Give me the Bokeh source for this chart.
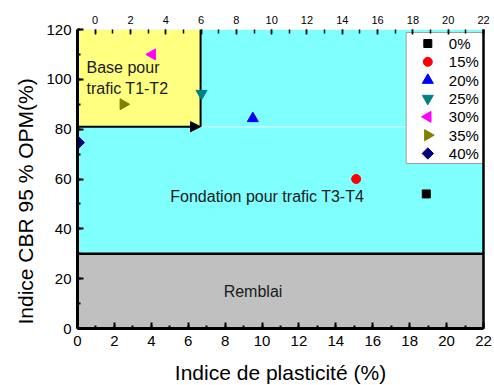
from bokeh.plotting import figure
from bokeh.models import (Range1d, LinearAxis, SingleIntervalTicker, Arrow,
                          NormalHead, Title, FixedTicker)
from bokeh.embed import file_html
from bokeh.resources import INLINE
from bokeh.core.properties import value
import numpy as np

# ---- data ----
series = ["0%", "15%", "20%", "25%", "30%", "35%", "40%"]
ip = [18.9, 15.1, 9.5, 6.72, 4.05, 2.48, 0.07]          # Indice de plasticité (%)
cbr = [54, 60, 84.3, 94.3, 110, 90, 74.6]                # Indice CBR 95 % OPM (%)
markers = ["square", "circle", "triangle", "inverted_triangle", "triangle", "triangle", "square"]
angles = [0, 0, 0, 0, np.pi / 2, -np.pi / 2, np.pi / 4]
colors = ["#000000", "#FF0000", "#0000FF", "#008080", "#FF00FF", "#808000", "#000080"]
sizes = [8, 9, 11, 11, 11, 11, 8]

# zones
remblai_y = [0, 30]
fondation_y = [30, 120]
base_x = [0, 6.67]
base_y = [81, 120]
x_lim = [0, 22]
y_lim = [0, 120]
top_lim = [-1.0, 22]
zone_texts = ["Remblai", "Fondation pour trafic T3-T4", "Base pour\ntrafic T1-T2"]
zone_text_x = [9.51, 10.28, 0.49]
zone_text_y = [15.0, 52.8, 100.4]

FONT = "Liberation Sans"
FW, FH = 406, 299   # frame size in px

p = figure(frame_width=FW, frame_height=FH, x_range=Range1d(*x_lim), y_range=Range1d(*y_lim),
           output_backend="svg", toolbar_location=None,
           min_border_left=77, min_border_right=11, min_border_top=29, min_border_bottom=56)
p.xgrid.visible = False
p.ygrid.visible = False
p.outline_line_color = None
p.extra_x_ranges = {"top": Range1d(*top_lim), "px": Range1d(0, FW)}
p.extra_y_ranges = {"px": Range1d(0, FH)}

# zones
p.quad(left=x_lim[0], right=x_lim[1], bottom=remblai_y[0], top=remblai_y[1],
       fill_color="#C0C0C0", line_color=None)
p.quad(left=x_lim[0], right=x_lim[1], bottom=fondation_y[0], top=fondation_y[1],
       fill_color="#80FFFF", line_color=None)
p.quad(left=base_x[0], right=base_x[1], bottom=base_y[0], top=base_y[1],
       fill_color="#FFFF80", line_color=None)

# boundaries
p.segment(x0=base_x[1], y0=base_y[0], x1=x_lim[1], y1=base_y[0], line_color="#C8FFFF", line_width=1.5)
p.segment(x0=x_lim[0], y0=remblai_y[1], x1=x_lim[1], y1=remblai_y[1], line_color="black", line_width=2.5)
p.segment(x0=base_x[1], y0=base_y[0], x1=base_x[1], y1=base_y[1], line_color="black", line_width=2)
p.add_layout(Arrow(end=NormalHead(size=10, fill_color="black", line_color="black"),
                   x_start=base_x[0], y_start=base_y[0], x_end=base_x[1], y_end=base_y[0],
                   line_width=2, line_color="black"))

# zone labels
p.text(x=zone_text_x[:2], y=zone_text_y[:2], text=zone_texts[:2], text_align="center",
       text_baseline="middle", text_font=value(FONT), text_font_size="16px", text_color="#1a1a1a")
p.text(x=zone_text_x[2:], y=zone_text_y[2:], text=zone_texts[2:], text_align="left",
       text_baseline="middle", text_font=value(FONT), text_font_size="16px", text_color="#1a1a1a",
       text_line_height=1.25)

# points
for i in range(len(series)):
    p.scatter(x=[ip[i]], y=[cbr[i]], marker=markers[i], angle=angles[i], size=sizes[i],
              fill_color=colors[i], line_color=colors[i])

# legend (drawn in frame-pixel coordinates so that rotated markers keep their orientation)
LG_L, LG_R, LG_B, LG_T = 328.7, FW, 165, 296
ROW = 18.33
p.quad(left=LG_L, right=LG_R, bottom=LG_B, top=LG_T, x_range_name="px", y_range_name="px",
       fill_color="white", line_color="#A0A0A0", line_width=1)
row_y = [LG_T - 11 - k * ROW for k in range(len(series))]
p.scatter(x=[LG_L + 21.6] * len(series), y=row_y, marker=markers, angle=angles, size=sizes,
          fill_color=colors, line_color=colors, x_range_name="px", y_range_name="px")
p.text(x=[LG_L + 42.6] * len(series), y=row_y, text=series, x_range_name="px", y_range_name="px",
       text_align="left", text_baseline="middle", text_font=value(FONT), text_font_size="15px",
       text_color="black")

# axes
xb = p.xaxis[0]
xb.ticker = SingleIntervalTicker(interval=2, num_minor_ticks=2)
yl = p.yaxis[0]
yl.ticker = SingleIntervalTicker(interval=20, num_minor_ticks=2)
for ax in (xb, yl):
    ax.axis_line_width = 3
    ax.axis_line_color = "black"
    ax.major_tick_in = 6
    ax.major_tick_out = 0
    ax.minor_tick_in = 3
    ax.minor_tick_out = 0
    ax.major_tick_line_width = 2
    ax.minor_tick_line_width = 2
    ax.major_label_text_font = FONT
    ax.major_label_text_font_size = "15px"
    ax.major_label_text_color = "black"
    ax.major_label_standoff = 6
xb.major_label_standoff = 7
xb.axis_label = "Indice de plasticité (%)"
xb.axis_label_text_font = FONT
xb.axis_label_text_font_size = "21px"
xb.axis_label_text_font_style = "normal"
xb.axis_label_text_color = "black"
xb.axis_label_standoff = 12

xt = LinearAxis(x_range_name="top", ticker=SingleIntervalTicker(interval=2, num_minor_ticks=2))
xt.axis_line_color = None
xt.major_tick_in = 5
xt.major_tick_out = 0
xt.minor_tick_in = 4
xt.minor_tick_out = 0
xt.major_tick_line_width = 1.5
xt.minor_tick_line_width = 1.5
xt.major_label_text_font = FONT
xt.major_label_text_font_size = "11px"
xt.major_label_text_color = "black"
xt.major_label_standoff = 6
p.add_layout(xt, "above")

yr = LinearAxis(ticker=FixedTicker(ticks=[]))
yr.axis_line_width = 2.5
yr.axis_line_color = "black"
yr.major_label_text_font_size = "0px"
yr.major_tick_line_color = None
yr.minor_tick_line_color = None
p.add_layout(yr, "right")

p.add_layout(Title(text="Indice CBR 95 % OPM(%)", align="left", offset=4, vertical_align="top",
                   standoff=10, text_font=FONT, text_font_size="21px", text_font_style="normal",
                   text_color="black"), "left")

open("out.html", "w").write(file_html(p, INLINE))
